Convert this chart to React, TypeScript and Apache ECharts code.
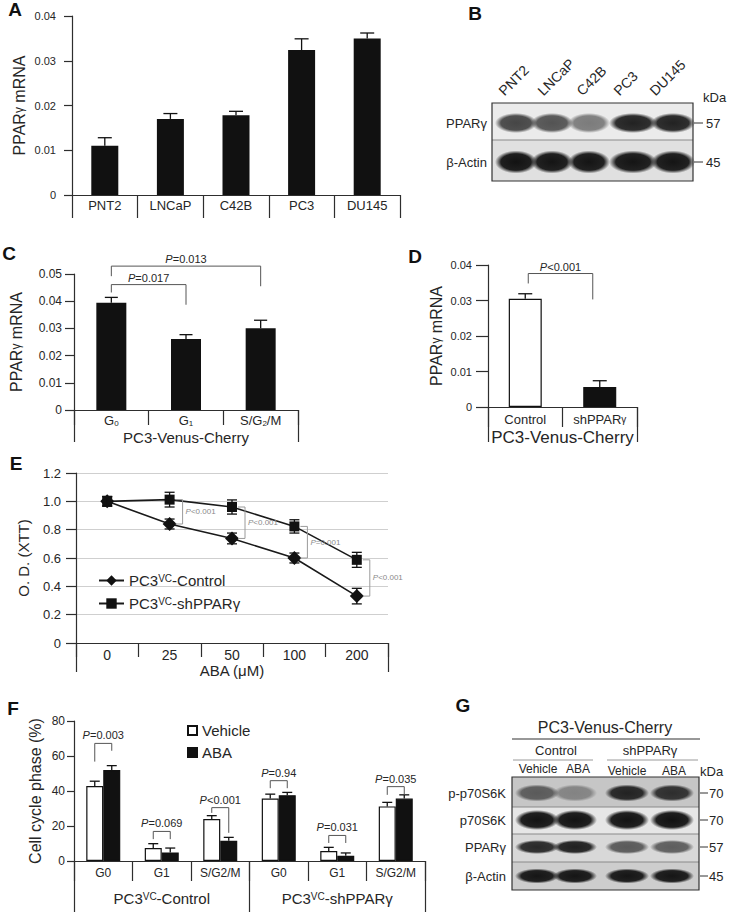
import React, { useEffect, useRef } from "react";
import * as echarts from "echarts";

const FONT = "'Liberation Sans', Arial, Helvetica, sans-serif";
const TXT = "#262626";
const AX = "#2e2e2e";
const BAR = "#111111";

// ---------- Panel A ----------
const aCategories = ["PNT2", "LNCaP", "C42B", "PC3", "DU145"];
const aValues = [0.011, 0.017, 0.0178, 0.0324, 0.035];
const aErrTop = [0.0128, 0.0182, 0.0187, 0.0349, 0.0362];

// ---------- Panel B (western blot) ----------
const bLanes = ["PNT2", "LNCaP", "C42B", "PC3", "DU145"];
const bRows = ["PPARγ", "β-Actin"];
const bMarkers = ["57", "45"];
const bIntensity = [
  [0.74, 0.68, 0.5, 0.9, 0.9],
  [0.97, 0.96, 0.96, 0.96, 0.96],
];

// ---------- Panel C ----------
const cCategories = ["G0", "G1", "S/G2/M"];
const cGroup = ["PC3-Venus-Cherry"];
const cValues = [0.0394, 0.0261, 0.0301];
const cErrTop = [0.0414, 0.0277, 0.033];
const cBracketFrom = [0, 0];
const cBracketTo = [1, 2];
const cBracketTop = [0.0461, 0.0529];
const cBracketLeftEnd = [0.0432, 0.0492];
const cBracketRightEnd = [0.0387, 0.0455];
const cBracketP = ["=0.017", "=0.013"];

// ---------- Panel D ----------
const dCategories = ["Control", "shPPARγ"];
const dGroup = ["PC3-Venus-Cherry"];
const dValues = [0.0305, 0.0056];
const dErrTop = [0.0319, 0.0074];
const dBracketFrom = [0];
const dBracketTo = [1];
const dBracketTop = [0.0376];
const dBracketLeftEnd = [0.0348];
const dBracketRightEnd = [0.0303];
const dBracketP = ["<0.001"];

// ---------- Panel E ----------
const eCategories = ["0", "25", "50", "100", "200"];
const eGroup = ["ABA (μM)"];
const eControl = [1.0, 0.84, 0.738, 0.6, 0.331];
const eControlErr = [0.035, 0.035, 0.038, 0.035, 0.055];
const eSh = [1.0, 1.012, 0.96, 0.823, 0.587];
const eShErr = [0.033, 0.052, 0.05, 0.047, 0.053];
const ePCats = [1, 2, 3, 4];
const ePLabels = ["<0.001", "<0.001", "=0.001", "<0.001"];
const eSeriesNames = ["PC3VC-Control", "PC3VC-shPPARγ"];

// ---------- Panel F ----------
const fCategories = ["G0", "G1", "S/G2/M", "G0", "G1", "S/G2/M"];
const fGroups = ["PC3VC-Control", "PC3VC-shPPARγ"];
const fVehicle = [42.9, 7.4, 24.0, 35.7, 5.7, 31.2];
const fVehicleErr = [45.6, 9.9, 25.9, 38.2, 7.8, 33.5];
const fAba = [52.0, 4.9, 11.6, 37.6, 3.0, 35.7];
const fAbaErr = [54.5, 7.4, 13.5, 39.2, 4.6, 37.8];
const fBracketTop = [67.2, 16.9, 30.5, 45.9, 14.6, 42.5];
const fBracketLeftEnd = [56.8, 12.5, 27.5, 41.6, 10.3, 37.8];
const fBracketRightEnd = [63.0, 12.5, 16.1, 41.6, 10.3, 37.8];
const fPLabels = ["=0.003", "=0.069", "<0.001", "=0.94", "=0.031", "=0.035"];

// ---------- Panel G (western blot) ----------
const gLanes = ["Vehicle", "ABA", "Vehicle", "ABA"];
const gConditions = ["Control", "shPPARγ"];
const gRows = ["p-p70S6K", "p70S6K", "PPARγ", "β-Actin"];
const gMarkers = ["70", "70", "57", "45"];
const gIntensity = [
  [0.58, 0.36, 0.88, 0.82],
  [0.97, 0.97, 0.97, 0.97],
  [0.86, 0.9, 0.62, 0.6],
  [0.95, 0.95, 0.95, 0.95],
];

// ---------- helpers ----------
const t = (fs: number, extra: any = {}) => ({ color: TXT, fill: TXT, fontFamily: FONT, fontSize: fs, ...extra });
const subRich = (v: string) =>
  v.split(/(\d)/).filter(Boolean).map((p) => (/^\d$/.test(p) ? `{s|${p}}` : `{n|${p}}`)).join("");
const supRich = (v: string) => {
  const parts = v.split("VC");
  return parts.length === 2 ? `{n|${parts[0]}}{s|VC}{n|${parts[1]}}` : `{n|${v}}`;
};
const richSub = (fs: number) => ({ n: t(fs), s: t(Math.round(fs * 0.65), { verticalAlign: "bottom" }) });
const richSup = (fs: number) => ({ n: t(fs), s: t(Math.round(fs * 0.65), { verticalAlign: "top" }) });
const pRich = (fs: number, color = TXT) => ({
  i: { ...t(fs), color, fill: color, fontStyle: "italic" },
  n: { ...t(fs), color, fill: color },
});

const axisLineStyle = { color: AX, width: 1.2 };

function yAxisDef(
  gridIndex: number,
  max: number,
  interval: number,
  name: string,
  nameGap: number,
  fs: number,
  nameFs: number,
  tickLen: number,
  labelMargin: number,
  extra: any = {}
) {
  return {
    type: "value",
    gridIndex,
    min: 0,
    max,
    interval,
    axisLine: { show: true, lineStyle: axisLineStyle },
    axisTick: { show: true, length: tickLen, lineStyle: axisLineStyle },
    axisLabel: { ...t(fs), margin: labelMargin },
    splitLine: { show: false },
    name,
    nameLocation: "middle",
    nameGap,
    nameRotate: 90,
    nameTextStyle: { ...t(nameFs), rich: { n: t(nameFs), g: t(Math.round(nameFs * 0.75)) } },
    ...extra,
  };
}

function xAxisDef(gridIndex: number, data: string[], tickLen: number, margin: number, fs: number, opts: any = {}) {
  return {
    type: "category",
    gridIndex,
    data,
    position: "bottom",
    boundaryGap: true,
    axisLine: { show: opts.showLine !== false, lineStyle: axisLineStyle },
    axisTick: { show: true, length: tickLen, interval: 0, alignWithLabel: false, lineStyle: axisLineStyle },
    axisLabel: {
      ...t(fs),
      margin,
      interval: 0,
      ...(opts.formatter ? { formatter: opts.formatter, rich: opts.rich } : {}),
    },
    splitLine: { show: false },
  };
}

function upperErr(xAxisIndex: number, yAxisIndex: number, vals: number[], tops: number[], cap: number, offset = 0) {
  return {
    type: "custom",
    xAxisIndex,
    yAxisIndex,
    silent: true,
    z: 5,
    encode: { x: 0, y: [1, 2] },
    data: vals.map((v, i) => [i, v, tops[i]]),
    renderItem: (params: any, api: any) => {
      const p0 = api.coord([api.value(0), api.value(1)]);
      const p1 = api.coord([api.value(0), api.value(2)]);
      const x = p0[0] + offset;
      const st = { stroke: "#111", lineWidth: 1.3 };
      return {
        type: "group",
        children: [
          { type: "line", shape: { x1: x, y1: p0[1], x2: x, y2: p1[1] }, style: st },
          { type: "line", shape: { x1: x - cap / 2, y1: p1[1], x2: x + cap / 2, y2: p1[1] }, style: st },
        ],
      };
    },
  };
}

function symErr(xAxisIndex: number, yAxisIndex: number, vals: number[], errs: number[], cap: number) {
  return {
    type: "custom",
    xAxisIndex,
    yAxisIndex,
    silent: true,
    z: 6,
    encode: { x: 0, y: [1, 2] },
    data: vals.map((v, i) => [i, v - errs[i], v + errs[i]]),
    renderItem: (params: any, api: any) => {
      const lo = api.coord([api.value(0), api.value(1)]);
      const hi = api.coord([api.value(0), api.value(2)]);
      const x = lo[0];
      const st = { stroke: "#111", lineWidth: 1.3 };
      return {
        type: "group",
        children: [
          { type: "line", shape: { x1: x, y1: lo[1], x2: x, y2: hi[1] }, style: st },
          { type: "line", shape: { x1: x - cap / 2, y1: lo[1], x2: x + cap / 2, y2: lo[1] }, style: st },
          { type: "line", shape: { x1: x - cap / 2, y1: hi[1], x2: x + cap / 2, y2: hi[1] }, style: st },
        ],
      };
    },
  };
}

function bracketSeries(
  xAxisIndex: number,
  yAxisIndex: number,
  from: number[],
  to: number[],
  top: number[],
  le: number[],
  re: number[],
  labels: string[],
  offL: number,
  offR: number,
  fs: number,
  textGap: number
) {
  return {
    type: "custom",
    xAxisIndex,
    yAxisIndex,
    silent: true,
    z: 7,
    clip: false,
    encode: { x: 0, y: 2 },
    data: from.map((f, i) => [f, to[i], top[i], le[i], re[i]]),
    renderItem: (params: any, api: any) => {
      const i = params.dataIndex;
      const a = api.coord([api.value(0), api.value(2)]);
      const b = api.coord([api.value(1), api.value(2)]);
      const yl = api.coord([api.value(0), api.value(3)])[1];
      const yr = api.coord([api.value(1), api.value(4)])[1];
      const xl = a[0] + offL;
      const xr = b[0] + offR;
      const yt = a[1];
      return {
        type: "group",
        children: [
          {
            type: "polyline",
            shape: { points: [[xl, yl], [xl, yt], [xr, yt], [xr, yr]] },
            style: { stroke: "#555", lineWidth: 1, fill: "none" },
          },
          {
            type: "text",
            x: (xl + xr) / 2,
            y: yt - textGap,
            style: {
              text: `{i|P}{n|${labels[i]}}`,
              align: "center",
              verticalAlign: "middle",
              textAlign: "center",
              textVerticalAlign: "middle",
              rich: pRich(fs),
            },
          },
        ],
      };
    },
  };
}

function eBracketSeries(xAxisIndex: number, yAxisIndex: number) {
  return {
    type: "custom",
    xAxisIndex,
    yAxisIndex,
    silent: true,
    z: 7,
    encode: { x: 0, y: [1, 2] },
    data: ePCats.map((c) => [c, eSh[c], eControl[c]]),
    renderItem: (params: any, api: any) => {
      const i = params.dataIndex;
      const p1 = api.coord([api.value(0), api.value(1)]);
      const p2 = api.coord([api.value(0), api.value(2)]);
      const x = p1[0] + 13;
      return {
        type: "group",
        children: [
          {
            type: "polyline",
            shape: { points: [[x - 7, p1[1]], [x, p1[1]], [x, p2[1]], [x - 7, p2[1]]] },
            style: { stroke: "#9a9a9a", lineWidth: 1, fill: "none" },
          },
          {
            type: "text",
            x: x + 3,
            y: (p1[1] + p2[1]) / 2,
            style: {
              text: `{i|P}{n|${ePLabels[i]}}`,
              align: "left",
              verticalAlign: "middle",
              textAlign: "left",
              textVerticalAlign: "middle",
              rich: pRich(8, "#8a8a8a"),
            },
          },
        ],
      };
    },
  };
}

// ---------- graphic (letters + blots) ----------
function txt(x: number, y: number, text: string, o: any = {}) {
  return {
    type: "text",
    x,
    y,
    rotation: o.rotation || 0,
    silent: true,
    style: {
      text,
      fill: o.fill || TXT,
      fontFamily: FONT,
      fontSize: o.fontSize || 12,
      fontWeight: o.fontWeight || "normal",
      align: o.align || "center",
      verticalAlign: o.va || "middle",
      textAlign: o.align || "center",
      textVerticalAlign: o.va || "middle",
      ...(o.rich ? { rich: o.rich } : {}),
    },
  };
}
function line(x1: number, y1: number, x2: number, y2: number, stroke = "#333", lineWidth = 1.2) {
  return { type: "line", silent: true, shape: { x1, y1, x2, y2 }, style: { stroke, lineWidth } };
}
function rect(x: number, y: number, w: number, h: number, fill: string, stroke?: string) {
  return {
    type: "rect",
    silent: true,
    shape: { x, y, width: w, height: h },
    style: { fill, stroke: stroke || null, lineWidth: stroke ? 1.2 : 0 },
  };
}
function band(cx: number, cy: number, w: number, h: number, a: number) {
  return {
    type: "rect",
    silent: true,
    shape: { x: cx - w / 2, y: cy - h / 2, width: w, height: h },
    style: {
      fill: new echarts.graphic.RadialGradient(0.5, 0.5, 0.5, [
        { offset: 0, color: `rgba(12,12,12,${a})` },
        { offset: 0.72, color: `rgba(12,12,12,${(a * 0.94).toFixed(3)})` },
        { offset: 1, color: "rgba(12,12,12,0)" },
      ]),
    },
  };
}

function buildGraphic() {
  const els: any[] = [];
  const letters: [string, number, number][] = [
    ["A", 15, 9],
    ["B", 475, 13],
    ["C", 9, 253],
    ["D", 415, 256],
    ["E", 16, 463],
    ["F", 13, 708],
    ["G", 463, 705],
  ];
  letters.forEach(([l, x, y]) => els.push(txt(x, y, l, { fontSize: 19, fontWeight: "bold", fill: "#111" })));

  // ---- Panel B ----
  const bx = 492, by = 103, bw = 201, bh = 78, bDiv = 140;
  els.push(rect(bx, by, bw, bDiv - by, "#ebebeb"));
  els.push(rect(bx, bDiv, bw, by + bh - bDiv, "#e0e0e0"));
  const bLaneX = [516, 552, 589, 633, 673];
  const bLaneW = [42, 42, 42, 48, 44];
  const bRowY = [123, 162];
  const bRowH = [20, 23];
  bIntensity.forEach((row, r) =>
    row.forEach((a, l) => els.push(band(bLaneX[l], bRowY[r], bLaneW[l], bRowH[r], a)))
  );
  els.push(line(bx, bDiv, bx + bw, bDiv, "#8a8a8a", 1));
  els.push(rect(bx, by, bw, bh, "none", "#333"));
  const bLabelX = [506, 545, 584, 621, 657];
  bLanes.forEach((n, i) =>
    els.push(txt(bLabelX[i], 98, n, { fontSize: 14, align: "left", va: "bottom", rotation: Math.PI / 4 }))
  );
  els.push(txt(703, 97, "kDa", { fontSize: 13, align: "left" }));
  bRows.forEach((n, i) => els.push(txt(487, bRowY[i], n, { fontSize: 13, align: "right" })));
  bMarkers.forEach((m, i) => {
    els.push(line(694, bRowY[i], 703, bRowY[i], "#333", 1));
    els.push(txt(706, bRowY[i], m, { fontSize: 13, align: "left" }));
  });

  // ---- Panel G ----
  const gx = 512, gy = 777, gw = 187, gh = 113;
  const gDiv = [777, 807, 834, 862, 890];
  const gBg = ["#c6c6c6", "#e6e6e6", "#d8d8d8", "#cdcdcd"];
  gBg.forEach((c, i) => els.push(rect(gx, gDiv[i], gw, gDiv[i + 1] - gDiv[i], c)));
  const gLaneX = [537, 575, 627, 672];
  const gRowY = [793, 820, 847, 876];
  const gRowH = [17, 20, 14, 15];
  gIntensity.forEach((row, r) => row.forEach((a, l) => els.push(band(gLaneX[l], gRowY[r], 44, gRowH[r], a))));
  [807, 834, 862].forEach((y) => els.push(line(gx, y, gx + gw, y, "#8a8a8a", 1)));
  els.push(rect(gx, gy, gw, gh, "none", "#333"));
  gRows.forEach((n, i) => els.push(txt(506, gRowY[i], n, { fontSize: 13, align: "right" })));
  gMarkers.forEach((m, i) => {
    els.push(line(700, gRowY[i], 708, gRowY[i], "#333", 1));
    els.push(txt(709, gRowY[i], m, { fontSize: 13, align: "left" }));
  });
  els.push(txt(605, 727, "PC3-Venus-Cherry", { fontSize: 16 }));
  els.push(line(512, 739, 700, 739, "#333", 1.2));
  const condX = [556, 650];
  const condLine = [[513, 593], [607, 698]];
  gConditions.forEach((c, i) => {
    els.push(txt(condX[i], 750, c, { fontSize: 13 }));
    els.push(line(condLine[i][0], 760, condLine[i][1], 760, "#9a9a9a", 1));
  });
  const gLabelX = [538, 578, 627, 674];
  const gLabelY = [769, 769, 771, 771];
  gLanes.forEach((n, i) => els.push(txt(gLabelX[i], gLabelY[i], n, { fontSize: 12 })));
  els.push(txt(700, 771, "kDa", { fontSize: 13, align: "left" }));
  return els;
}

function buildOption() {
  const grids = [
    { left: 72, top: 16, width: 328, height: 179 }, // A
    { left: 74, top: 274, width: 224, height: 136 }, // C
    { left: 488, top: 265, width: 149, height: 142 }, // D
    { left: 76, top: 473, width: 312, height: 170 }, // E
    { left: 74, top: 721, width: 351, height: 140 }, // F
  ].map((g) => ({ ...g, containLabel: false, outerBoundsMode: "none" }));

  const xAxes = [
    xAxisDef(0, aCategories, 23, 4, 13),
    xAxisDef(1, cCategories, 15, 4, 13, { formatter: (v: string) => subRich(v), rich: richSub(13) }),
    xAxisDef(1, cGroup, 32, 20, 15, { showLine: false }),
    xAxisDef(2, dCategories, 20, 6, 13, {
      formatter: (v: string) => v.replace("γ", "{g|γ}").replace(/^([^{]+)/, "{n|$1}"),
      rich: { n: t(13), g: t(10) },
    }),
    xAxisDef(2, dGroup, 35, 22, 17, { showLine: false }),
    xAxisDef(3, eCategories, 14, 5, 14),
    xAxisDef(3, eGroup, 29, 20, 15, { showLine: false }),
    xAxisDef(4, fCategories, 20, 6, 12),
    xAxisDef(4, fGroups, 51, 30, 15, { showLine: false, formatter: (v: string) => supRich(v), rich: richSup(15) }),
  ];

  const yAxes = [
    yAxisDef(0, 0.04, 0.01, "{n|PPAR}{g|γ}{n| mRNA}", 45, 11, 16, 8, 16),
    yAxisDef(1, 0.05, 0.01, "{n|PPAR}{g|γ}{n| mRNA}", 50, 12, 16, 9, 12),
    yAxisDef(2, 0.04, 0.01, "{n|PPAR}{g|γ}{n| mRNA}", 44, 11, 16, 12, 16),
    yAxisDef(3, 1.2, 0.2, "O. D. (XTT)", 45, 13, 15, 10, 15, {
      axisLabel: { ...t(13), margin: 15, formatter: (v: number) => (v === 0 ? "0" : v.toFixed(1)) },
      splitLine: { show: true, lineStyle: { color: "#cfcfcf", width: 1 } },
    }),
    yAxisDef(4, 80, 20, "Cell cycle phase (%)", 31, 12, 16, 7, 9),
  ];

  const series: any[] = [
    // A
    {
      type: "bar",
      name: "A",
      xAxisIndex: 0,
      yAxisIndex: 0,
      data: aValues,
      barWidth: 27,
      itemStyle: { color: BAR },
      z: 3,
    },
    upperErr(0, 0, aValues, aErrTop, 14),
    // C
    {
      type: "bar",
      name: "C",
      xAxisIndex: 1,
      yAxisIndex: 1,
      data: cValues,
      barWidth: 30,
      itemStyle: { color: BAR },
      z: 3,
    },
    upperErr(1, 1, cValues, cErrTop, 13),
    bracketSeries(1, 1, cBracketFrom, cBracketTo, cBracketTop, cBracketLeftEnd, cBracketRightEnd, cBracketP, 0, 0, 11, 7),
    // D
    {
      type: "bar",
      name: "D",
      xAxisIndex: 3,
      yAxisIndex: 2,
      barWidth: 33,
      z: 3,
      data: dValues.map((v, i) => ({
        value: v,
        itemStyle: i === 0 ? { color: "#fff", borderColor: BAR, borderWidth: 1.2 } : { color: BAR, borderColor: BAR, borderWidth: 1.2 },
      })),
    },
    upperErr(3, 2, dValues, dErrTop, 14),
    bracketSeries(3, 2, dBracketFrom, dBracketTo, dBracketTop, dBracketLeftEnd, dBracketRightEnd, dBracketP, 3, -7, 11, 7),
    // E
    {
      type: "line",
      name: eSeriesNames[0],
      xAxisIndex: 5,
      yAxisIndex: 3,
      data: eControl,
      symbol: "diamond",
      symbolSize: 14,
      lineStyle: { color: "#1a1a1a", width: 1.6 },
      itemStyle: { color: "#111" },
      z: 4,
    },
    {
      type: "line",
      name: eSeriesNames[1],
      xAxisIndex: 5,
      yAxisIndex: 3,
      data: eSh,
      symbol: "rect",
      symbolSize: 10,
      lineStyle: { color: "#1a1a1a", width: 1.6 },
      itemStyle: { color: "#111" },
      z: 4,
    },
    symErr(5, 3, eControl, eControlErr, 10),
    symErr(5, 3, eSh, eShErr, 10),
    eBracketSeries(5, 3),
    // F
    {
      type: "bar",
      name: "Vehicle",
      xAxisIndex: 7,
      yAxisIndex: 4,
      data: fVehicle,
      barWidth: 17,
      barGap: "0%",
      itemStyle: { color: "#fff", borderColor: BAR, borderWidth: 1.2 },
      z: 3,
    },
    {
      type: "bar",
      name: "ABA",
      xAxisIndex: 7,
      yAxisIndex: 4,
      data: fAba,
      barWidth: 17,
      barGap: "0%",
      itemStyle: { color: BAR, borderColor: BAR, borderWidth: 1.2 },
      z: 3,
    },
    upperErr(7, 4, fVehicle, fVehicleErr, 10, -8.5),
    upperErr(7, 4, fAba, fAbaErr, 10, 8.5),
    bracketSeries(
      7,
      4,
      fCategories.map((_, i) => i),
      fCategories.map((_, i) => i),
      fBracketTop,
      fBracketLeftEnd,
      fBracketRightEnd,
      fPLabels,
      -8.5,
      8.5,
      11,
      8
    ),
  ];

  return {
    animation: false,
    backgroundColor: "#fff",
    textStyle: { fontFamily: FONT, color: TXT },
    grid: grids,
    xAxis: xAxes,
    yAxis: yAxes,
    legend: [
      {
        data: eSeriesNames,
        orient: "vertical",
        left: 93,
        top: 568,
        itemWidth: 25,
        itemHeight: 13,
        itemGap: 8,
        selectedMode: false,
        formatter: (n: string) => supRich(n),
        textStyle: { ...t(15), rich: richSup(15) },
      },
      {
        data: ["Vehicle", "ABA"],
        orient: "vertical",
        left: 182,
        top: 718,
        itemWidth: 9,
        itemHeight: 9,
        itemGap: 7,
        icon: "rect",
        selectedMode: false,
        textStyle: t(15),
      },
    ],
    graphic: { elements: buildGraphic() },
    series,
  };
}

export default function App() {
  const ref = useRef<HTMLDivElement>(null);
  useEffect(() => {
    if (!ref.current) return;
    const chart = echarts.init(ref.current, null, { renderer: "svg" });
    chart.setOption(buildOption() as any);
    return () => chart.dispose();
  }, []);
  return (
    <div
      ref={ref}
      style={{ position: "absolute", left: 0, top: 0, width: 729, height: 912, background: "#fff" }}
    />
  );
}
